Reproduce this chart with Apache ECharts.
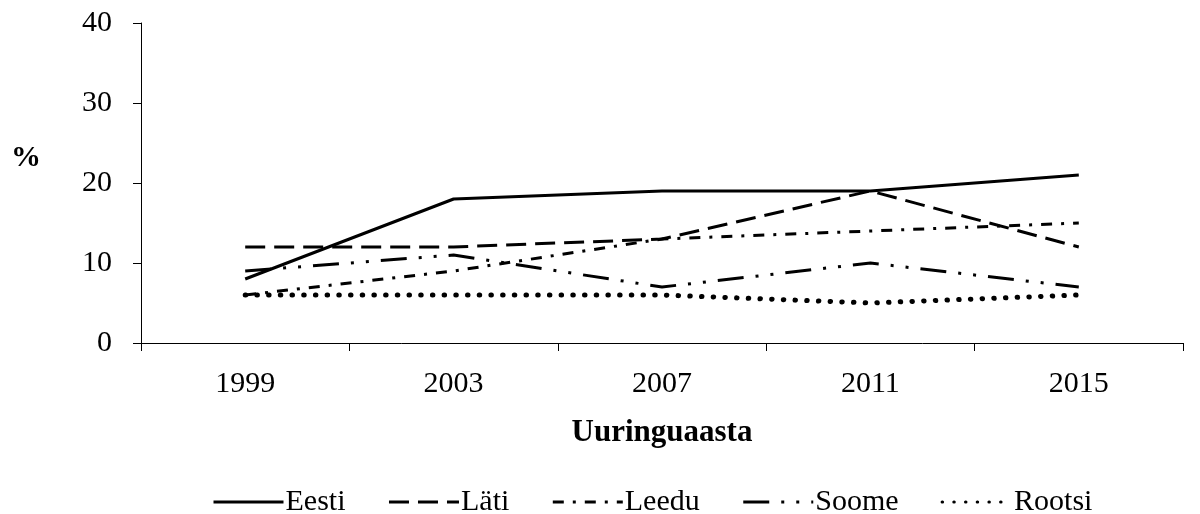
<!DOCTYPE html>
<html>
<head>
<meta charset="utf-8">
<script src="https://cdn.jsdelivr.net/npm/echarts@6/dist/echarts.min.js"></script>
<style>
  html, body { margin: 0; padding: 0; background: #fff; }
  #chart { width: 1200px; height: 514px; }
</style>
</head>
<body>
<div id="chart"></div>
<script>
const years = ["1999", "2003", "2007", "2011", "2015"];
const eesti = [8, 18, 19, 19, 21];
const lati = [12, 12, 13, 19, 12];
const leedu = [6, 9, 13, 14, 15];
const soome = [9, 11, 7, 10, 7];
const rootsi = [6, 6, 6, 5, 6];

const font = "Liberation Serif";

// joonte stiilid
const mkSeries = (name, data, type, width, cap) => ({
  name: name,
  type: "line",
  data: data,
  symbol: "none",
  silent: true,
  itemStyle: { color: "#000" },
  lineStyle: { color: "#000", width: width, type: type, cap: cap || "butt" },
});

const chart = echarts.init(document.getElementById("chart"));
chart.setOption({
  animation: false,
  grid: { left: 141, right: 17, top: 23, bottom: 171 },
  legend: {
    left: 207,
    top: 482,
    itemWidth: 70,
    itemHeight: 14,
    itemGap: 42,
    itemStyle: { opacity: 0 },
    lineStyle: { width: 3 },
    textStyle: { fontFamily: font, fontSize: 30, color: "#000", padding: [0, 0, 0, -3] },
  },
  xAxis: {
    type: "category",
    data: years,
    boundaryGap: true,
    name: "Uuringuaasta",
    nameLocation: "middle",
    nameGap: 74,
    nameTextStyle: { fontFamily: font, fontSize: 31, fontWeight: "bold", color: "#000" },
    axisLine: { lineStyle: { color: "#000", width: 1 } },
    axisTick: { show: true, length: 8, inside: false, alignWithLabel: false, lineStyle: { color: "#000" } },
    axisLabel: { fontFamily: font, fontSize: 30, color: "#000", margin: 26 },
  },
  yAxis: {
    type: "value",
    min: 0,
    max: 40,
    interval: 10,
    splitLine: { show: false },
    axisLine: { show: true, lineStyle: { color: "#000", width: 1 } },
    axisTick: { show: true, length: 8, lineStyle: { color: "#000" } },
    axisLabel: { fontFamily: font, fontSize: 30, color: "#000", margin: 29 },
  },
  graphic: [
    {
      type: "text",
      left: 11,
      top: 143,
      style: { text: "%", font: "bold 30px " + font, fill: "#000" },
    },
  ],
  series: [
    mkSeries("Eesti", eesti, "solid", 3),
    mkSeries("Läti", lati, [20, 9], 3),
    mkSeries("Leedu", leedu, [11, 9, 3, 9], 3),
    mkSeries("Soome", soome, [26, 12, 3, 12, 3, 12], 3),
    mkSeries("Rootsi", rootsi, [0.5, 11.2], 5, "round"),
  ],
});
</script>
</body>
</html>
